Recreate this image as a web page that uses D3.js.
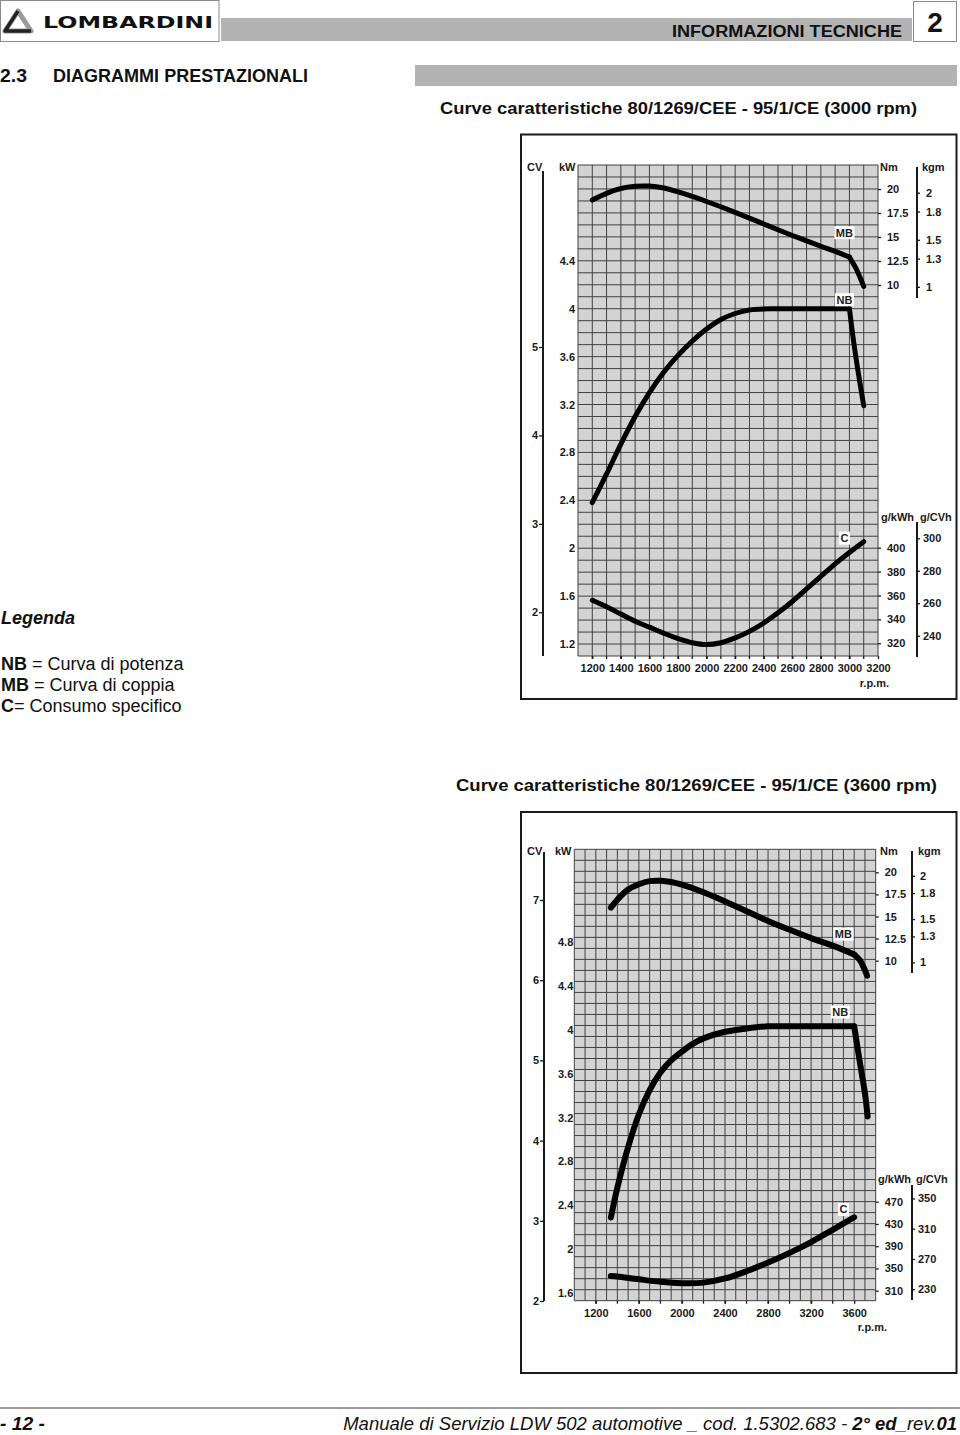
<!DOCTYPE html>
<html lang="it">
<head>
<meta charset="UTF-8">
<title>Diagrammi prestazionali</title>
<script src="https://d3js.org/d3.v7.min.js"></script>
<style>
  body { margin: 0; background: #fff; }
  svg { display: block; font-family: 'Liberation Sans', Arial, sans-serif; }
</style>
</head>
<body>
<svg id="page" width="960" height="1435"></svg>
<script>
// --- 3000 rpm: curve values read from the sheet ---
const nbRpm1 = [1200, 1300, 1400, 1500, 1600, 1700, 1800, 1900, 2000, 2100, 2200, 2300, 2500, 2700, 2900, 3000, 3030, 3060, 3100];
const nbKw1  = [2.38, 2.62, 2.87, 3.10, 3.30, 3.47, 3.61, 3.73, 3.83, 3.91, 3.96, 3.99, 4.00, 4.00, 4.00, 4.00, 3.72, 3.48, 3.19];
const mbRpm1 = [1200, 1300, 1400, 1500, 1600, 1700, 1800, 1900, 2000, 2100, 2200, 2300, 2400, 2500, 2600, 2700, 2800, 2900, 3000, 3050, 3100];
const mbNm1  = [18.85, 19.55, 20.05, 20.28, 20.3, 20.1, 19.7, 19.22, 18.7, 18.15, 17.57, 16.97, 16.36, 15.75, 15.16, 14.6, 14.04, 13.5, 12.9, 11.6, 9.85];
const cRpm1  = [1200, 1300, 1400, 1500, 1600, 1700, 1800, 1900, 2000, 2100, 2200, 2300, 2400, 2500, 2600, 2700, 2800, 2900, 3000, 3100];
const cG1    = [356, 350.5, 344.5, 338.5, 333.5, 328.5, 324, 320.5, 319, 320.5, 324.5, 330, 337, 345.5, 355, 365.5, 376, 386.5, 396, 405];

// --- 3600 rpm ---
const nbRpm2 = [1340, 1400, 1500, 1600, 1700, 1800, 1900, 2000, 2100, 2200, 2400, 2600, 2800, 3000, 3200, 3400, 3600, 3650, 3700, 3725];
const nbKw2  = [2.29, 2.56, 2.93, 3.23, 3.45, 3.61, 3.72, 3.80, 3.87, 3.92, 3.98, 4.01, 4.03, 4.03, 4.03, 4.03, 4.03, 3.72, 3.42, 3.21];
const mbRpm2 = [1340, 1400, 1500, 1600, 1700, 1800, 1900, 2000, 2200, 2400, 2600, 2800, 3000, 3200, 3400, 3600, 3650, 3690, 3720];
const mbNm2  = [16.0, 16.9, 18.05, 18.65, 19.0, 19.05, 18.9, 18.6, 17.75, 16.7, 15.6, 14.5, 13.5, 12.55, 11.7, 10.7, 10.1, 9.2, 8.3];
const cRpm2  = [1340, 1400, 1600, 1800, 2000, 2200, 2400, 2600, 2800, 3000, 3200, 3400, 3600];
const cG2    = [336.5, 335.5, 330.5, 326, 323.5, 324.5, 332, 345, 360.5, 378, 397.5, 419.5, 442];

// --- tick labels ---
const cvTicks1 = [2, 3, 4, 5];
const kwTicks1 = [1.2, 1.6, 2, 2.4, 2.8, 3.2, 3.6, 4, 4.4];
const nmTicks = [10, 12.5, 15, 17.5, 20];
const kgmTicks = [1, 1.3, 1.5, 1.8, 2];
const gkTicks1 = [320, 340, 360, 380, 400];
const gcTicks1 = [240, 260, 280, 300];
const rpmTicks1 = [1200, 1400, 1600, 1800, 2000, 2200, 2400, 2600, 2800, 3000, 3200];

const cvTicks2 = [2, 3, 4, 5, 6, 7];
const kwTicks2 = [1.6, 2, 2.4, 2.8, 3.2, 3.6, 4, 4.4, 4.8];
const gkTicks2 = [310, 350, 390, 430, 470];
const gcTicks2 = [230, 270, 310, 350];
const rpmTicks2 = [1200, 1600, 2000, 2400, 2800, 3200, 3600];

const KGM = 9.80665;   // Nm per kgm
const CVK = 0.7355;    // kW per CV

const svg = d3.select('#page');
const NARROW = "'Liberation Sans Narrow', 'Arial Narrow', 'Liberation Sans', Arial, sans-serif";
const GREY = '#b3b3b3';

// ---------- page header ----------
svg.append('rect').attr('x', 0.5).attr('y', 0.5).attr('width', 218.5).attr('height', 41)
  .attr('fill', '#fff').attr('stroke', '#8a8a8a');
svg.append('path').attr('d', 'M18,11 L31,31 L5,31 Z')
  .attr('fill', 'none').attr('stroke', '#9a9a9a').attr('stroke-width', 5).attr('stroke-linejoin', 'round');
svg.append('path').attr('d', 'M18,11 L5,31 L31,31')
  .attr('fill', 'none').attr('stroke', '#222').attr('stroke-width', 3.5).attr('stroke-linejoin', 'round');
svg.append('text').attr('x', 43).attr('y', 28).text('LOMBARDINI')
  .attr('font-family', "'DejaVu Sans', sans-serif").attr('font-weight', 'bold').attr('font-size', 15)
  .attr('textLength', 170).attr('lengthAdjust', 'spacingAndGlyphs').attr('fill', '#111');

svg.append('rect').attr('x', 221).attr('y', 18).attr('width', 691).attr('height', 23).attr('fill', GREY);
svg.append('text').attr('x', 672).attr('y', 36.5).text('INFORMAZIONI TECNICHE')
  .attr('font-family', NARROW).attr('font-weight', 'bold').attr('font-size', 16)
  .attr('textLength', 230).attr('lengthAdjust', 'spacingAndGlyphs').attr('fill', '#111');
svg.append('rect').attr('x', 913.5).attr('y', 1.5).attr('width', 43).attr('height', 40)
  .attr('fill', '#fff').attr('stroke', '#8a8a8a');
svg.append('text').attr('x', 935).attr('y', 32).attr('text-anchor', 'middle').text('2')
  .attr('font-weight', 'bold').attr('font-size', 28).attr('fill', '#111');

svg.append('text').attr('x', 0).attr('y', 81.5).text('2.3')
  .attr('font-family', NARROW).attr('font-weight', 'bold').attr('font-size', 18)
  .attr('textLength', 27).attr('lengthAdjust', 'spacingAndGlyphs').attr('fill', '#111');
svg.append('text').attr('x', 53).attr('y', 81.5).text('DIAGRAMMI PRESTAZIONALI')
  .attr('font-family', NARROW).attr('font-weight', 'bold').attr('font-size', 18)
  .attr('textLength', 255).attr('lengthAdjust', 'spacingAndGlyphs').attr('fill', '#111');
svg.append('rect').attr('x', 415).attr('y', 65).attr('width', 542).attr('height', 21).attr('fill', GREY);

function title(txt, x, y, w) {
  svg.append('text').attr('x', x).attr('y', y).text(txt)
    .attr('font-family', NARROW).attr('font-weight', 'bold').attr('font-size', 17)
    .attr('textLength', w).attr('lengthAdjust', 'spacingAndGlyphs').attr('fill', '#111');
}
title('Curve caratteristiche 80/1269/CEE - 95/1/CE (3000 rpm)', 440, 114, 477);
title('Curve caratteristiche 80/1269/CEE - 95/1/CE (3600 rpm)', 456, 791, 481);

// ---------- legend ----------
svg.append('text').attr('x', 1).attr('y', 624).text('Legenda')
  .attr('font-weight', 'bold').attr('font-style', 'italic').attr('font-size', 18).attr('fill', '#111');
[['NB', ' = Curva di potenza', 670], ['MB', ' = Curva di coppia', 691], ['C', '= Consumo specifico', 712]]
  .forEach(([k, rest, y]) => {
    const t = svg.append('text').attr('x', 1).attr('y', y).attr('font-size', 18).attr('fill', '#111');
    t.append('tspan').attr('font-weight', 'bold').text(k);
    t.append('tspan').text(rest);
  });

// ---------- one chart ----------
function drawChart(c) {
  const g = svg.append('g');
  const G = c.grid;

  g.append('rect').attr('x', c.frame[0]).attr('y', c.frame[1])
    .attr('width', c.frame[2] - c.frame[0]).attr('height', c.frame[3] - c.frame[1])
    .attr('fill', 'none').attr('stroke', '#1a1a1a').attr('stroke-width', 2);

  const x = d3.scaleLinear().domain(c.rpmDomain).range([G.left, G.right]);
  const kw = d3.scaleLinear().domain(c.kwCal).range(c.kwY);
  const cv = d3.scaleLinear().domain(c.cvCal).range(c.cvY);
  const nm = d3.scaleLinear().domain(c.nmCal).range(c.nmY);
  const kgm = d3.scaleLinear().domain(c.nmCal.map(v => v / KGM)).range(c.nmY);
  const gk = d3.scaleLinear().domain(c.gCal).range(c.gY);
  const gc = d3.scaleLinear().domain(c.gCal.map(v => v * CVK)).range(c.gY);
  const row = d3.scaleLinear().domain([0, c.rows]).range([G.bottom, G.top]);

  // grid
  g.append('rect').attr('x', G.left).attr('y', G.top)
    .attr('width', G.right - G.left).attr('height', G.bottom - G.top).attr('fill', '#d3d3d3');
  g.selectAll('line.v').data(d3.range(c.rpmDomain[0], c.rpmDomain[1] + 1, 100)).join('line')
    .attr('x1', d => x(d)).attr('x2', d => x(d)).attr('y1', G.top).attr('y2', G.bottom)
    .attr('stroke', '#414141').attr('stroke-width', 1);
  g.selectAll('line.h').data(d3.range(0, c.rows + 1)).join('line')
    .attr('x1', G.left).attr('x2', G.right).attr('y1', d => row(d)).attr('y2', d => row(d))
    .attr('stroke', '#414141').attr('stroke-width', 1);

  const style = sel => {
    sel.select('.domain').remove();
    sel.attr('font-family', "'Liberation Sans', Arial, sans-serif").attr('font-size', 11).attr('font-weight', 'bold');
    sel.selectAll('text').attr('fill', '#1a1a1a');
    sel.selectAll('line').attr('stroke', '#1a1a1a').attr('stroke-width', 1.3);
  };
  const fmt = d => String(d);

  // CV axis (left line)
  g.append('line').attr('x1', c.cvX).attr('x2', c.cvX).attr('y1', c.cvLine[0]).attr('y2', c.cvLine[1])
    .attr('stroke', '#1a1a1a').attr('stroke-width', 2);
  g.append('g').attr('transform', `translate(${c.cvX},0)`)
    .call(d3.axisLeft(cv).tickValues(c.cvTicks).tickSize(4).tickPadding(1).tickFormat(fmt)).call(style);

  // kW labels beside the grid
  g.append('g').attr('transform', `translate(${G.left},0)`)
    .call(d3.axisLeft(kw).tickValues(c.kwTicks).tickSize(0).tickPadding(c.kwPad).tickFormat(fmt)).call(style);

  // Nm and g/kWh on the grid's right edge
  g.append('g').attr('transform', `translate(${G.right},0)`)
    .call(d3.axisRight(nm).tickValues(nmTicks).tickSize(3).tickPadding(6).tickFormat(fmt)).call(style);
  g.append('g').attr('transform', `translate(${G.right},0)`)
    .call(d3.axisRight(gk).tickValues(c.gkTicks).tickSize(3).tickPadding(6).tickFormat(fmt)).call(style);

  // kgm and g/CVh lines
  g.append('line').attr('x1', c.rX).attr('x2', c.rX).attr('y1', c.kgmLine[0]).attr('y2', c.kgmLine[1])
    .attr('stroke', '#1a1a1a').attr('stroke-width', 2);
  g.append('g').attr('transform', `translate(${c.rX},0)`)
    .call(d3.axisRight(kgm).tickValues(kgmTicks).tickSize(3).tickPadding(c.kgmPad).tickFormat(fmt)).call(style);
  g.append('line').attr('x1', c.rX).attr('x2', c.rX).attr('y1', c.gcLine[0]).attr('y2', c.gcLine[1])
    .attr('stroke', '#1a1a1a').attr('stroke-width', 2);
  g.append('g').attr('transform', `translate(${c.rX},0)`)
    .call(d3.axisRight(gc).tickValues(c.gcTicks).tickSize(3).tickPadding(c.gcPad).tickFormat(fmt)).call(style);

  // rpm axis
  g.append('g').attr('transform', `translate(0,${G.bottom})`)
    .call(d3.axisBottom(x).tickValues(c.rpmTicks).tickSize(3).tickPadding(c.rpmPad).tickFormat(fmt)).call(style);
  g.selectAll('line.minor').data(d3.range(c.rpmTicks[0], c.rpmTicks[c.rpmTicks.length - 1], c.minorStep)).join('line')
    .attr('x1', d => x(d)).attr('x2', d => x(d)).attr('y1', G.bottom).attr('y2', G.bottom + 3)
    .attr('stroke', '#1a1a1a').attr('stroke-width', 1.3);

  // unit headers
  c.units.forEach(([txt, ux, uy, anchor]) => {
    g.append('text').attr('x', ux).attr('y', uy).attr('text-anchor', anchor || 'start').text(txt)
      .attr('font-size', 11).attr('font-weight', 'bold').attr('fill', '#1a1a1a');
  });

  // curves: smooth pieces, with a sharp corner at the kink where the curve falls away
  const curve = (xs, ys, sy, kink) => {
    const pts = xs.map((v, i) => [v, ys[i]]);
    const parts = kink == null ? [pts] : [pts.slice(0, kink + 1), pts.slice(kink)];
    const line = d3.line().x(d => x(d[0])).y(d => sy(d[1])).curve(d3.curveCatmullRom.alpha(0.5));
    parts.forEach(p => {
      g.append('path').attr('d', line(p))
        .attr('fill', 'none').attr('stroke', '#000').attr('stroke-width', c.lineW)
        .attr('stroke-linecap', 'round').attr('stroke-linejoin', 'round');
    });
  };
  curve(c.mb[0], c.mb[1], nm, c.mb[2]);
  curve(c.nb[0], c.nb[1], kw, c.nb[2]);
  curve(c.c[0], c.c[1], gk, null);

  // curve labels on white
  const tag = (txt, px, py) => {
    const t = g.append('text').attr('x', px).attr('y', py + 4).attr('text-anchor', 'middle').text(txt)
      .attr('font-size', 11).attr('font-weight', 'bold').attr('fill', '#222');
    const b = t.node().getBBox();
    g.insert('rect', () => t.node()).attr('x', b.x - 1.5).attr('y', b.y - 0.5)
      .attr('width', b.width + 3).attr('height', b.height + 1).attr('fill', '#fff');
  };
  tag('MB', x(c.tags.mb[0]), nm(c.tags.mb[1]));
  tag('NB', x(c.tags.nb[0]), kw(c.tags.nb[1]));
  tag('C', x(c.tags.c[0]), gk(c.tags.c[1]));
}

drawChart({
  frame: [521, 134.5, 956.5, 699],
  grid: { left: 578, right: 878, top: 165, bottom: 656 },
  rows: 41,
  rpmDomain: [1100, 3200],
  kwCal: [1.1, 5.2], kwY: [656, 165],
  cvCal: [2, 5], cvY: [612.3, 347],
  nmCal: [10, 20], nmY: [285, 189],
  gCal: [320, 400], gY: [643.3, 547.7],
  cvX: 543, cvLine: [171, 656],
  rX: 917, kgmLine: [167, 298], gcLine: [522, 657],
  kwPad: 3, kgmPad: 6, gcPad: 3, rpmPad: 5, minorStep: 100,
  cvTicks: cvTicks1, kwTicks: kwTicks1, gkTicks: gkTicks1, gcTicks: gcTicks1, rpmTicks: rpmTicks1,
  units: [['CV', 527, 171], ['kW', 559, 171], ['Nm', 880, 171], ['kgm', 922, 171],
          ['g/kWh', 881, 521], ['g/CVh', 920, 521], ['r.p.m.', 889, 687, 'end']],
  lineW: 5,
  nb: [nbRpm1, nbKw1, 15], mb: [mbRpm1, mbNm1, 18], c: [cRpm1, cG1],
  tags: { mb: [2965, 15.45], nb: [2965, 4.075], c: [2965, 408] }
});

drawChart({
  frame: [521, 812, 956.5, 1373],
  grid: { left: 574.3, right: 875.7, top: 849.3, bottom: 1300.7 },
  rows: 41,
  rpmDomain: [1000, 3800],
  kwCal: [1.6, 4.8], kwY: [1293.3, 941.7],
  cvCal: [2, 7], cvY: [1301, 900],
  nmCal: [10, 20], nmY: [960.7, 872.3],
  gCal: [310, 470], gY: [1290.7, 1201.7],
  cvX: 544, cvLine: [852, 1301],
  rX: 912, kgmLine: [851, 973], gcLine: [1185, 1300],
  kwPad: 1, kgmPad: 5, gcPad: 3, rpmPad: 6, minorStep: 200,
  cvTicks: cvTicks2, kwTicks: kwTicks2, gkTicks: gkTicks2, gcTicks: gcTicks2, rpmTicks: rpmTicks2,
  units: [['CV', 527, 855], ['kW', 555, 855], ['Nm', 880, 855], ['kgm', 918, 855],
          ['g/kWh', 878, 1183], ['g/CVh', 916, 1183], ['r.p.m.', 887, 1331, 'end']],
  lineW: 6,
  nb: [nbRpm2, nbKw2, 16], mb: [mbRpm2, mbNm2, 15], c: [cRpm2, cG2],
  tags: { mb: [3500, 13.0], nb: [3470, 4.16], c: [3500, 456] }
});

// ---------- footer ----------
svg.append('line').attr('x1', 0).attr('x2', 960).attr('y1', 1408).attr('y2', 1408)
  .attr('stroke', '#9a9a9a').attr('stroke-width', 2);
svg.append('text').attr('x', 0).attr('y', 1430).text('- 12 -')
  .attr('font-family', NARROW).attr('font-weight', 'bold').attr('font-style', 'italic').attr('font-size', 18)
  .attr('textLength', 45).attr('lengthAdjust', 'spacingAndGlyphs').attr('fill', '#111');
const foot = svg.append('text').attr('x', 957).attr('y', 1430).attr('text-anchor', 'end')
  .attr('font-family', NARROW).attr('font-style', 'italic').attr('font-size', 19).attr('fill', '#111');
foot.append('tspan').text('Manuale di Servizio LDW 502 automotive _ cod. 1.5302.683 - ');
foot.append('tspan').attr('font-weight', 'bold').text('2°');
foot.append('tspan').text(' ');
foot.append('tspan').attr('font-weight', 'bold').text('ed');
foot.append('tspan').text('_rev.');
foot.append('tspan').attr('font-weight', 'bold').text('01');
// fit the footer line to the width it has on the sheet
const footW = foot.node().getComputedTextLength();
foot.attr('font-size', 19 * 614 / footW);
</script>
</body>
</html>
